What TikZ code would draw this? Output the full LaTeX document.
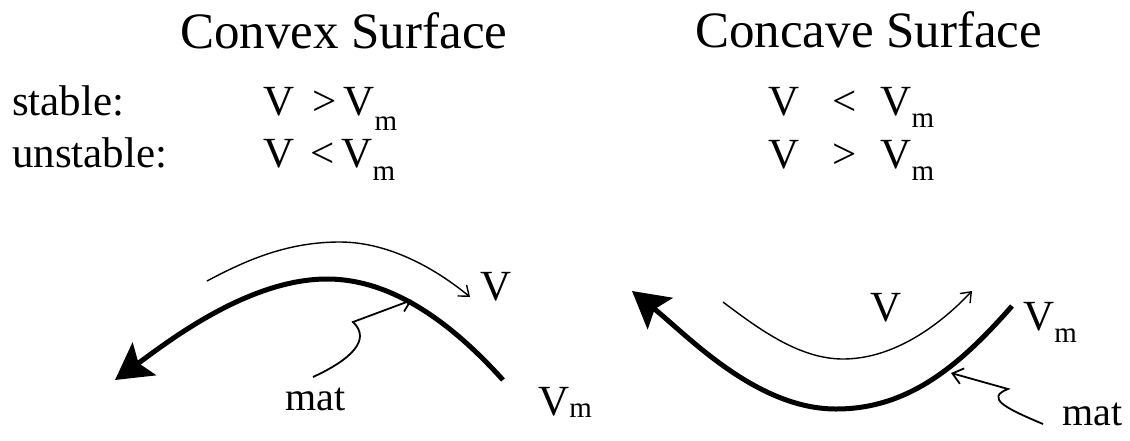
\documentclass[tikz,border=0pt]{standalone}
\usepackage{fontspec}
\setmainfont{Liberation Serif}
\usetikzlibrary{arrows.meta}
\newcommand{\Vsub}[1]{V\raisebox{-#1}{\fontsize{29}{29}\selectfont m}}
\begin{document}
\begin{tikzpicture}[x=1pt,y=-1pt,
  lbl/.style={inner sep=0pt,anchor=base west,font=\fontsize{43}{48}\selectfont},
  ttl/.style={lbl,font=\fontsize{51}{56}\selectfont},
  matlbl/.style={lbl,font=\fontsize{40}{44}\selectfont},
  surf/.style={line width=5pt,-{Stealth[length=36pt,width=40pt,inset=7pt]}},
  flow/.style={line width=1.4pt,-{Straight Barb[length=9pt,width=14pt]}},
  ptr/.style={line width=1.8pt,-{Straight Barb[length=10pt,width=16pt]}}]
\useasboundingbox (0,0) rectangle (1130,440);
% headings and conditions
\node[ttl] (t1) at (180,48) {Convex Surface};
\node[ttl] (t2) at (695,47) {Concave Surface};
\node[lbl] (s0) at (12,115) {stable:};
\node[lbl] (u0) at (12,167) {unstable:};
\node[lbl] (s1) at (263,115) {V\hspace{18pt}>\hspace{7pt}\Vsub{15pt}};
\node[lbl] (u1) at (263,167) {V\hspace{16pt}<\hspace{7pt}\Vsub{13pt}};
\node[lbl] (s2) at (768,115) {V\hspace{33pt}<\hspace{24pt}\Vsub{12pt}};
\node[lbl] (u2) at (768,168) {V\hspace{33pt}>\hspace{24pt}\Vsub{12pt}};
% convex surface
\coordinate (a1) at (503,380);
\coordinate (a2) at (327,279);
\coordinate (a3) at (115,380);
\draw[surf] (a1) .. controls (458,330) and (397,279) .. (a2)
  .. controls (247,279) and (165,344) .. (a3);
\coordinate (b1) at (207,281);
\coordinate (b2) at (340,242);
\coordinate (b3) at (470,297);
\draw[flow] (b1) .. controls (250,258) and (290,242) .. (b2)
  .. controls (388,242) and (435,268) .. (b3);
\node[lbl] (v1) at (480,300) {V};
\node[lbl] (m1) at (538,415) {\Vsub{2pt}};
\node[matlbl] (k1) at (285,410) {mat};
\coordinate (c1) at (313,377);
\coordinate (c2) at (353,322);
\coordinate (c3) at (412,300);
\draw[ptr] (c1) .. controls (350,360) and (372,340) .. (c2) -- (c3);
% concave surface
\coordinate (d1) at (1012,306);
\coordinate (d2) at (836,409);
\coordinate (d3) at (632,291);
\draw[surf] (d1) .. controls (957,369) and (906,409) .. (d2)
  .. controls (756,409) and (687,335) .. (d3);
\coordinate (e1) at (723,302);
\coordinate (e2) at (843,359);
\coordinate (e3) at (972,291);
\draw[flow] (e1) .. controls (760,330) and (800,359) .. (e2)
  .. controls (890,359) and (935,330) .. (e3);
\node[lbl] (v2) at (870,321) {V};
\node[lbl] (m2) at (1023,330) {\Vsub{12pt}};
\node[matlbl] (k2) at (1062,425) {mat};
\coordinate (f1) at (1043,424);
\coordinate (f2) at (1008,389);
\coordinate (f3) at (951,373);
\draw[ptr] (f1) .. controls (1005,408) and (985,398) .. (f2) -- (f3);
\end{tikzpicture}
\end{document}
